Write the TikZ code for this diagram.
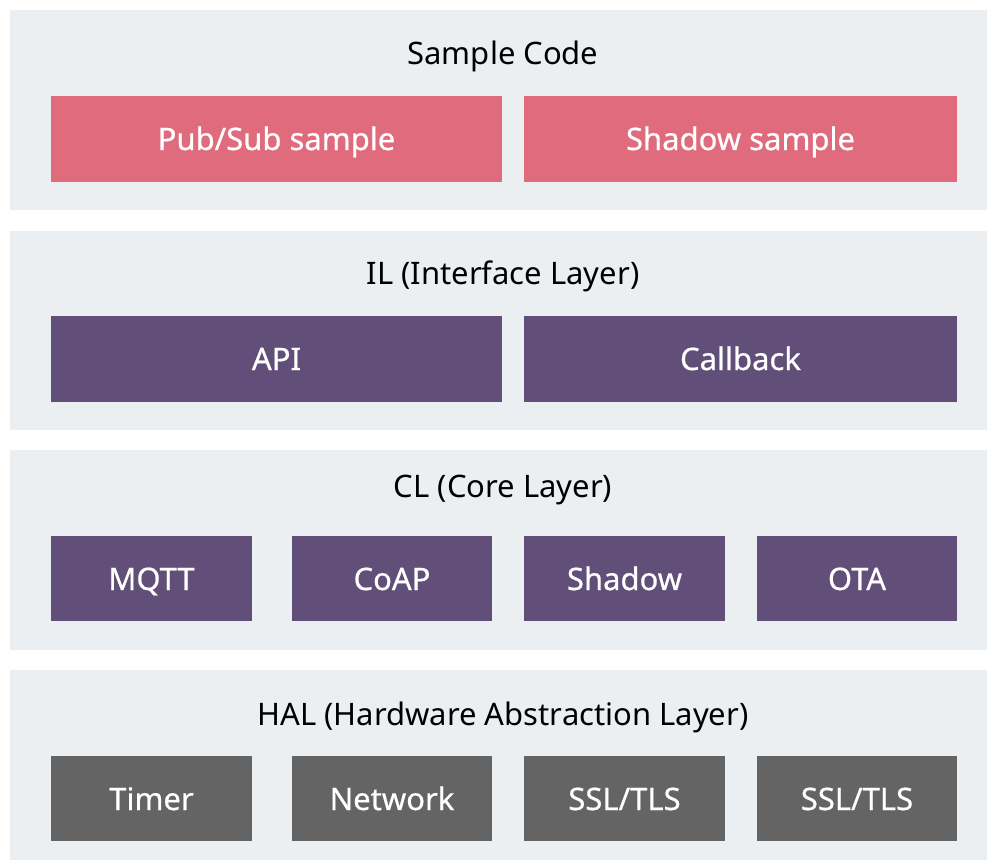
\documentclass[tikz,border=0pt]{standalone}
\usepackage{fontspec}
\setmainfont{Noto Sans}
\newfontfamily\boxfont[FakeBold=0.6]{Noto Sans}
\definecolor{panelgray}{HTML}{ECEFF2}
\definecolor{pinkbox}{HTML}{E06B7D}
\definecolor{purplebox}{HTML}{614F79}
\definecolor{graybox}{HTML}{646464}
\begin{document}
\begin{tikzpicture}[x=1pt,y=-1pt,
  panel/.style={fill=panelgray,draw=none},
  ttl/.style={font=\fontsize{31}{34}\selectfont,text=black,anchor=base,inner sep=0pt},
  boxlbl/.style={font=\boxfont\fontsize{31}{34}\selectfont,text=white,inner sep=0pt,anchor=base},
]
\useasboundingbox (0,0) rectangle (987,860);
\fill[white] (0,0) rectangle (987,860);
% panels
\fill[panel] (10,10) rectangle (987,210);
\fill[panel] (10,231) rectangle (987,430);
\fill[panel] (10,450) rectangle (987,650);
\fill[panel] (10,670) rectangle (987,860);
% titles
\node[ttl] (t1) at (503,64) {Sample Code};
\node[ttl] (t2) at (503,284) {IL (Interface Layer)};
\node[ttl] (t3) at (503,497) {CL (Core Layer)};
\node[ttl] (t4) at (503,725) {HAL (Hardware Abstraction Layer)};
% row 1
\fill[pinkbox] (51,96) rectangle (502,182);
\fill[pinkbox] (524,96) rectangle (957,182);
\node[boxlbl] (pub) at (276.5,150) {Pub/Sub sample};
\node[boxlbl] (shs) at (740.5,150) {Shadow sample};
% row 2
\fill[purplebox] (51,316) rectangle (502,402);
\fill[purplebox] (524,316) rectangle (957,402);
\node[boxlbl] (api) at (276.5,370) {API};
\node[boxlbl] (cb) at (740.5,370) {Callback};
% row 3
\fill[purplebox] (51,536) rectangle (252,621);
\fill[purplebox] (292,536) rectangle (492,621);
\fill[purplebox] (524,536) rectangle (725,621);
\fill[purplebox] (757,536) rectangle (957,621);
\node[boxlbl] (mqtt) at (151.5,590) {MQTT};
\node[boxlbl] (coap) at (392,590) {CoAP};
\node[boxlbl] (shd) at (624.5,590) {Shadow};
\node[boxlbl] (ota) at (857,590) {OTA};
% row 4
\fill[graybox] (51,756) rectangle (252,841);
\fill[graybox] (292,756) rectangle (492,841);
\fill[graybox] (524,756) rectangle (725,841);
\fill[graybox] (757,756) rectangle (957,841);
\node[boxlbl] (tim) at (151.5,810) {Timer};
\node[boxlbl] (net) at (392,810) {Network};
\node[boxlbl] (ssl1) at (624.5,810) {SSL/TLS};
\node[boxlbl] (ssl2) at (857,810) {SSL/TLS};
\end{tikzpicture}
\end{document}
